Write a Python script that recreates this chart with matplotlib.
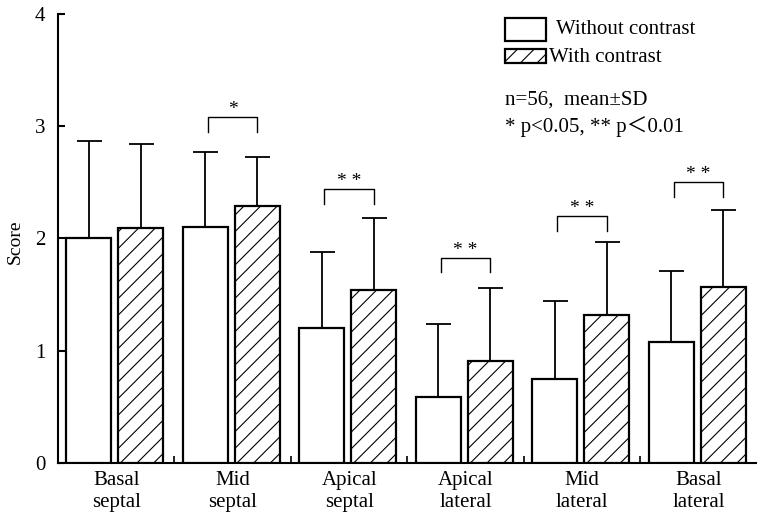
import numpy as np
import matplotlib
matplotlib.use('Agg')
from matplotlib import pyplot as plt
from matplotlib.patches import Rectangle

plt.rcParams['font.family'] = ['Liberation Serif', 'Noto Sans CJK JP']
plt.rcParams['hatch.linewidth'] = 0.8

segments = ['Basal\nseptal', 'Mid\nseptal', 'Apical\nseptal',
            'Apical\nlateral', 'Mid\nlateral', 'Basal\nlateral']
without_mean = [2.0, 2.1, 1.2, 0.59, 0.75, 1.08]
without_top = [2.87, 2.77, 1.88, 1.24, 1.44, 1.71]
with_mean = [2.09, 2.29, 1.54, 0.91, 1.32, 1.57]
with_top = [2.84, 2.73, 2.18, 1.56, 1.97, 2.25]

# significance brackets: group index, label, bracket height
sig_group = [1, 2, 3, 4, 5]
sig_label = ['*', '**', '**', '**', '**']
sig_height = [3.08, 2.44, 1.83, 2.20, 2.50]

fig = plt.figure(figsize=(7.57, 5.19), dpi=100)
ax = fig.add_axes([0.0766, 0.108, 0.9234, 0.865])

x = np.arange(len(segments)) + 0.5
w = 0.385
x1 = x - 0.235
x2 = x + 0.21

wm = np.array(without_mean)
hm = np.array(with_mean)
ax.bar(x1, wm, w, color='white', edgecolor='black', linewidth=1.6, zorder=3)
ax.bar(x2, hm, w, color='white', edgecolor='black', linewidth=1.6,
       hatch='//', zorder=3)

ax.errorbar(x1, wm, yerr=[np.zeros(6), np.array(without_top) - wm], fmt='none',
            ecolor='black', elinewidth=1.3, capsize=9, capthick=1.3, zorder=2)
ax.errorbar(x2, hm, yerr=[np.zeros(6), np.array(with_top) - hm], fmt='none',
            ecolor='black', elinewidth=1.3, capsize=9, capthick=1.3, zorder=2)

for g, lab, h in zip(sig_group, sig_label, sig_height):
    xa = x1[g] + 0.02
    xb = x2[g] + 0.0
    ax.plot([xa, xa, xb, xb], [h - 0.13, h, h, h - 0.13], color='black', lw=1.0)
    ax.text((xa + xb) / 2, h - 0.01, lab.replace('*', '* ').strip(),
            ha='center', va='bottom', fontsize=14)

ax.set_xlim(0, 6)
ax.set_ylim(0, 4)
ax.set_yticks([0, 1, 2, 3, 4])
ax.set_xticks(x)
ax.set_xticklabels(segments, fontsize=15, linespacing=1.2)
ax.set_xticks([1, 2, 3, 4, 5], minor=True)
ax.tick_params(axis='x', which='major', length=0, pad=6)
ax.tick_params(axis='x', which='minor', direction='in', length=5, width=1.2)
ax.tick_params(axis='y', direction='in', length=5, width=1.5, pad=9, labelsize=15)
ax.spines['top'].set_visible(False)
ax.spines['right'].set_visible(False)
ax.spines['left'].set_linewidth(1.5)
ax.spines['bottom'].set_linewidth(1.5)

fig.text(15 / 757, 1 - 242 / 519, 'Score', rotation=90, ha='center', va='center',
         fontsize=14)

# legend drawn by hand in figure pixels
def px(xp, yp):
    return xp / 757, 1 - yp / 519

r1 = Rectangle(px(505, 41), 41 / 757, 23 / 519, transform=fig.transFigure,
               facecolor='white', edgecolor='black', lw=1.6)
r2 = Rectangle(px(505, 63), 41 / 757, 14 / 519, transform=fig.transFigure,
               facecolor='white', edgecolor='black', lw=1.6, hatch='//')
fig.add_artist(r1)
fig.add_artist(r2)
fig.text(*px(556, 29), 'Without contrast', ha='left', va='center', fontsize=15)
fig.text(*px(549, 58), 'With contrast', ha='left', va='center', fontsize=15)
fig.text(*px(505, 100), 'n=56,  mean\u00b1SD', ha='left', va='center', fontsize=15)
fig.text(*px(505, 127), '* p<0.05, ** p\uff1c0.01', ha='left', va='center', fontsize=15)

plt.savefig('out.png', dpi=100)
